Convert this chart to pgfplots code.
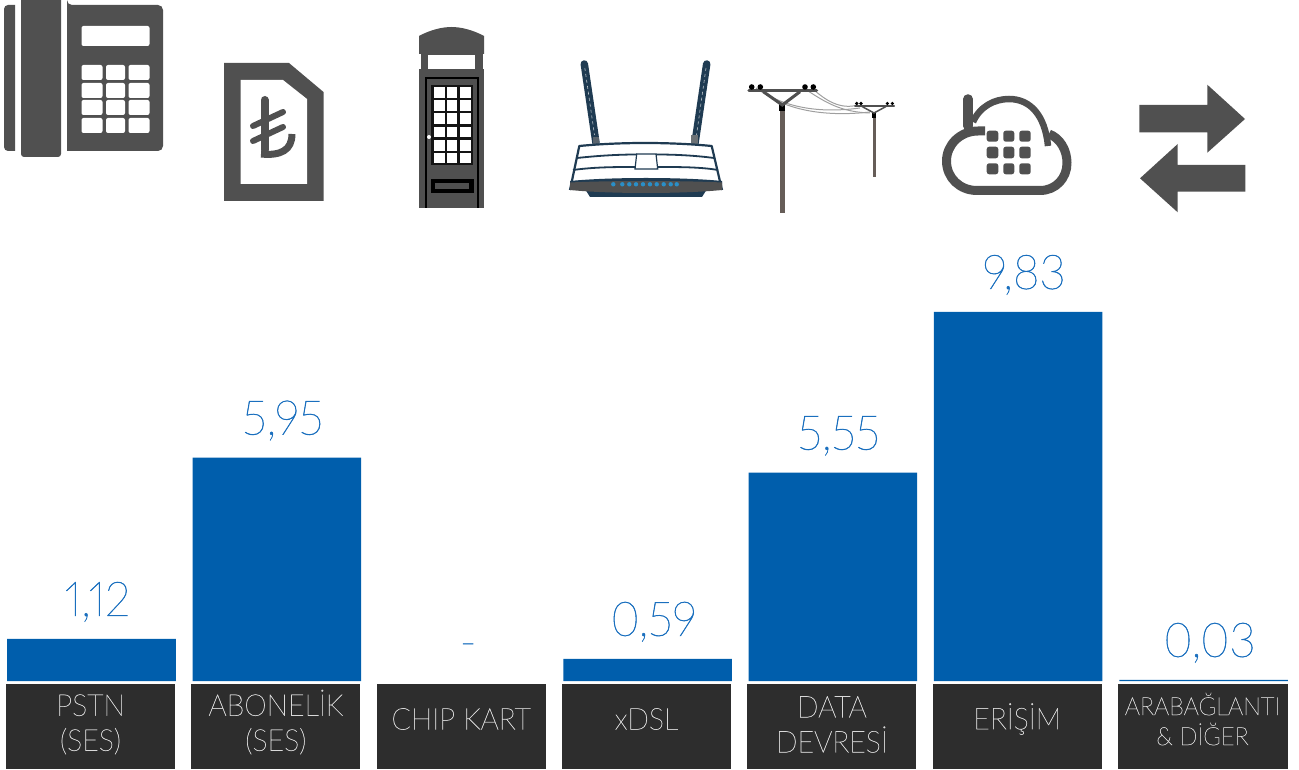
\documentclass[border=0pt]{standalone}
\usepackage{fontspec}
\setmainfont{Lato Light}
\newfontfamily\valfont[FakeStretch=0.95,FakeBold=1,Numbers=Proportional]{Lato Thin}
\newfontfamily\catfont[FakeStretch=0.95,FakeBold=1]{Lato Thin}
\usepackage{pgfplots}
\usepackage{pgfplotstable}
\pgfplotsset{compat=1.18}
\definecolor{barblue}{HTML}{005EAC}
\definecolor{lblblue}{HTML}{1A6FBE}
\definecolor{boxdark}{HTML}{2D2D2D}
\definecolor{icon}{HTML}{505050}
\definecolor{navy}{HTML}{1F3B52}
\definecolor{pole}{HTML}{665D58}
\definecolor{ledblue}{HTML}{2A8FC8}
\pgfplotstableread{
x y label
0 1.12 {1,12}
1 5.95 {5,95}
3 0.59 {0,59}
4 5.55 {5,55}
5 9.83 {9,83}
6 0.03 {0,03}
}\revenue
\pgfplotstableread{
x y label
2 0.00 {-}
}\revenuenone
\begin{document}
\begin{tikzpicture}
\begin{scope}[x=1pt,y=-1pt,shift={(0,769pt)}]
% category boxes
\fill[boxdark] (6,684) rectangle (175,769);
\fill[boxdark] (191,684) rectangle (360,769);
\fill[boxdark] (377,684) rectangle (546,769);
\fill[boxdark] (562,684) rectangle (731,769);
\fill[boxdark] (746.5,684) rectangle (915.5,769);
\fill[boxdark] (932.5,684) rectangle (1102,769);
\fill[boxdark] (1118,684) rectangle (1287.5,769);
% phone
\fill[icon] (15,5) -- (9,5) [rounded corners=4pt] -- (4,5) -- (4,151) [sharp corners] -- (15,151) -- cycle;
\fill[icon,rounded corners=3pt] (21,-4) rectangle (61,157);
\fill[icon,rounded corners=5pt] (67,151) -- (67,5) -- (67,5) -- (163,5) -- (163,151) -- cycle;
\fill[icon] (67,5) rectangle (75,151);
\begin{scope}[white,rounded corners=2pt]
\fill (81.5,26) rectangle (149.5,46);
\foreach \ya/\yb in {65/80,83/98,100/115,118/133}{
 \fill (81.5,\ya) rectangle (102.5,\yb);
 \fill (106,\ya) rectangle (125,\yb);
 \fill (128.5,\ya) rectangle (149.5,\yb);
}
\end{scope}
% SIM
\fill[icon] (224,63) -- (289,63) -- (323.5,92) -- (323.5,201) -- (224,201) -- cycle;
\fill[white] (240.5,80) -- (283,80) -- (307,99) -- (307,184) -- (240.5,184) -- cycle;
\draw[icon,line width=8pt,line cap=round] (264.5,100) -- (264.5,150);
\draw[icon,line width=6pt,line cap=round] (253,126) -- (283,112);
\draw[icon,line width=6pt,line cap=round] (253,141) -- (283,127);
\draw[icon,line width=7pt] (261,154) .. controls (281,156) and (292,150) .. (292,134);
% booth
\fill[icon] (419,54) -- (419,36) .. controls (430,30) and (442,27) .. (451.5,27) .. controls (461,27) and (473,30) .. (484,36) -- (484,54) -- cycle;
\fill[icon] (421,53) rectangle (483,69);
\fill[white] (428,55) rectangle (475,69);
\fill[icon] (419,69) rectangle (484,208);
\draw[black,line width=2.5pt] (426,208) -- (426,78) -- (478,78) -- (478,208);
\fill[black!75!icon] (431,85) rectangle (473,165);
\foreach \ya/\yb in {87/98,100.5/111,113.5/124,127/137,140/151,153/163}{
 \fill[white] (434,\ya) rectangle (445,\yb);
 \fill[white] (447,\ya) rectangle (457,\yb);
 \fill[white] (460,\ya) rectangle (471,\yb);
}
\fill[black] (431,179) rectangle (474,193);
\fill[icon] (435,183) rectangle (469,189);
\fill[white] (429,137) circle (2);
% router
\draw[navy,line width=7.5pt,line cap=round] (584.3,64) -- (596,143);
\draw[navy,line width=7.5pt,line cap=round] (706.7,64) -- (695,143);
\draw[white!70!navy,line width=.6pt,dashed] (584.8,68) -- (594.5,135);
\draw[white!70!navy,line width=.6pt,dashed] (706,68) -- (696.5,135);
\fill[gray!60!navy] (592.5,137) rectangle (598.5,145);
\fill[gray!80!navy] (691,135) rectangle (698,144);
\fill[white] (579.3,146) .. controls (620,142) and (670,142) .. (711.7,146) -- (722,190) -- (570,190) -- cycle;
\draw[navy,line width=2.2pt,line join=round] (570,190) -- (579.3,146) .. controls (620,142) and (670,142) .. (711.7,146) -- (722,190);
\draw[navy,line width=1.8pt] (577,158) .. controls (600,155.5) and (620,154.5) .. (637,154.5);
\draw[navy,line width=1.8pt] (656,154.5) .. controls (675,154.5) and (695,155.5) .. (714,158);
\draw[navy,line width=1.8pt] (573,170) .. controls (595,167) and (615,167) .. (636,167);
\draw[navy,line width=1.8pt] (657,167) .. controls (680,167) and (700,167) .. (718,170);
\draw[navy,line width=1.2pt,fill=white] (636.7,154) -- (656,154) -- (657.7,169) -- (635,169) -- cycle;
\fill[navy] (585,189) -- (707,189) -- (702,197) -- (590,197) -- cycle;
\fill[navy] (570,181) .. controls (610,177) and (682,177) .. (722,181) -- (722,186) -- (570,186) -- cycle;
\fill[icon] (570,182.5) .. controls (610,180.5) and (682,180.5) .. (722,182.5) -- (722,190) .. controls (682,194) and (610,194) .. (570,190) -- cycle;
\foreach \lx in {613.3,622.3,629.3,636,643,650,656.7,663.7,670.7,676.7}
 \fill[ledblue] (\lx,184.3) circle (2.2);
% poles
\draw[gray!75,line width=1pt] (756,88) .. controls (790,112) and (830,112) .. (860,108);
\draw[gray!75,line width=1pt] (760,90) .. controls (790,114) and (835,116) .. (870,112);
\draw[gray!75,line width=1pt] (805,89) .. controls (825,102) and (840,112) .. (870,113);
\draw[gray!75,line width=1pt] (813,89) .. controls (825,100) and (840,110) .. (858,105);
\draw[pole,line width=5pt] (782.3,108) -- (782.3,213.5);
\fill[black] (779.3,103) rectangle (785.3,111);
\draw[icon,line width=3.5pt,line cap=round] (749,90.7) -- (816.5,90.7);
\draw[icon,line width=3pt] (763.3,91.7) -- (782.3,105) -- (800,91.7);
\foreach \ix in {751.7,760.3,805,813.3} \fill[black] (\ix,87) circle (2.8);
\draw[pole,line width=3pt] (874,116) -- (874,177.5);
\fill[black] (871.7,113) rectangle (876.3,118);
\draw[icon,line width=2pt,line cap=round] (855,106) -- (894,106);
\draw[icon,line width=1.5pt] (862,106.5) -- (874,113) -- (886,106.5);
\foreach \ix in {856.7,861,887.3,892.3} \fill[black] (\ix,103.5) circle (1.8);
% cloud
\draw[icon,line width=9.5pt,line cap=round] (968,99) -- (968,126);
\draw[icon,line width=9pt,line join=round] (985,131) -- (978,131) .. controls (960,131) and (946.5,145) .. (946.5,161) .. controls (946.5,178) and (960,190.5) .. (977,190.5) -- (1040,190.5) .. controls (1056,190.5) and (1067,178) .. (1067,163) .. controls (1067,150) and (1060,138) .. (1049,134);
\draw[icon,line width=6.5pt] (973,122) .. controls (980,106) and (995,99) .. (1009,99) .. controls (1030,99) and (1045,115) .. (1048,146);
\begin{scope}[icon,rounded corners=2.5pt]
\foreach \ya/\yb in {130.7/141.7,146.7/158.3,163.3/174.3}{
 \fill (986.7,\ya) rectangle (998.3,\yb);
 \fill (1003.3,\ya) rectangle (1014.3,\yb);
 \fill (1019.3,\ya) rectangle (1030.7,\yb);
}
\end{scope}
% arrows
\fill[icon] (1139.3,105) -- (1207.3,105) -- (1207.3,84.7) -- (1245,119) -- (1207.3,152.7) -- (1207.3,132.3) -- (1139.3,132.3) -- cycle;
\fill[icon] (1245.3,165) -- (1177.7,165) -- (1177.7,144) -- (1140,178.3) -- (1177.7,212.3) -- (1177.7,191.7) -- (1245.3,191.7) -- cycle;
\end{scope}
\begin{axis}[
  at={(0,88pt)}, anchor=south west,
  scale only axis, width=1299pt, height=681pt,
  xmin=-0.4937, xmax=6.5154, ymin=0, ymax=18.14,
  clip=false,
  ybar, bar width=168.5pt, bar shift=0pt,
  axis line style={draw=none},
  major tick length=0pt,
  ytick=\empty,
  xtick={0,...,6},
  xticklabels={{\rule{0pt}{32pt}PSTN\\(SES)},{\rule{0pt}{32pt}ABONELİK\\(SES)},{CHIP KART},{xDSL},{\rule{0pt}{32pt}DATA\\DEVRESİ},{ERİŞİM},{\fontsize{25}{29}\selectfont ARABAĞLANTI\\[-5pt]\fontsize{25}{29}\selectfont \& DİĞER}},
  xticklabel style={anchor=center, align=center, yshift=-38pt, xshift=-1pt, text=white!85!black, font=\catfont\fontsize{30}{35}\selectfont, inner sep=0pt},
  nodes near coords,
  point meta=explicit symbolic,
  every node near coord/.append style={anchor=base, yshift=23pt, xshift=6pt, text=lblblue, font=\valfont\fontsize{48}{56}\selectfont, inner sep=0pt},
]
\addplot[fill=barblue, draw=none] table[x=x,y=y,meta=label] {\revenue};
\addplot[fill=none, draw=none] table[x=x,y=y,meta=label] {\revenuenone};
\end{axis}
\pgfresetboundingbox
\path[use as bounding box] (0,0) rectangle (1299pt,769pt);
\end{tikzpicture}
\end{document}
